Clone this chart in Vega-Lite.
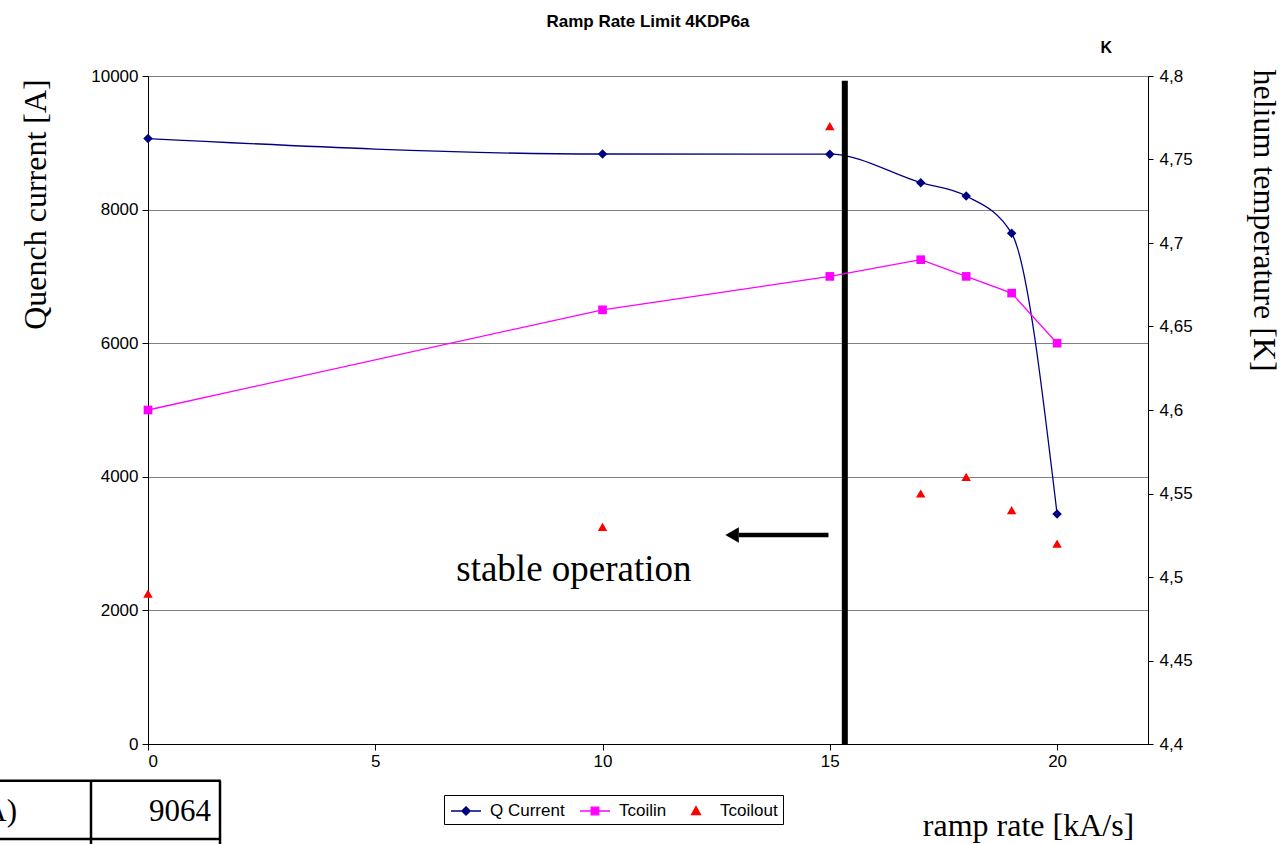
{
  "$schema": "https://vega.github.io/schema/vega-lite/v6.json",
  "width": 1000,
  "height": 668,
  "autosize": {"type": "none"},
  "padding": {"left": 148, "top": 76, "right": 134, "bottom": 100},
  "background": "white",
  "title": {"text": "Ramp Rate Limit 4KDP6a", "font": "Liberation Sans", "fontSize": 17, "fontWeight": "bold", "color": "black", "anchor": "middle", "frame": "group", "offset": 9},
  "config": {
    "view": {"stroke": "black", "strokeWidth": 1},
    "axis": {"labelFont": "Liberation Sans", "labelFontSize": 17, "labelColor": "black", "domainColor": "black", "tickColor": "black", "tickSize": 6, "titleFont": "Liberation Serif", "titleFontWeight": "normal", "titleColor": "black", "titleFontSize": 32}
  },
  "datasets": {
    "q": [
      {"x": 0, "current": 9064},
      {"x": 10, "current": 8832},
      {"x": 15, "current": 8830},
      {"x": 17, "current": 8403},
      {"x": 18, "current": 8204},
      {"x": 19, "current": 7645},
      {"x": 20, "current": 3443}
    ],
    "tin": [
      {"x": 0, "temp": 4.6},
      {"x": 10, "temp": 4.66},
      {"x": 15, "temp": 4.68},
      {"x": 17, "temp": 4.69},
      {"x": 18, "temp": 4.68},
      {"x": 19, "temp": 4.67},
      {"x": 20, "temp": 4.64}
    ],
    "tout": [
      {"x": 0, "temp": 4.49},
      {"x": 10, "temp": 4.53},
      {"x": 15, "temp": 4.77},
      {"x": 17, "temp": 4.55},
      {"x": 18, "temp": 4.56},
      {"x": 19, "temp": 4.54},
      {"x": 20, "temp": 4.52}
    ],
    "legendrows": [
      {"x": -100, "current": 0, "series": "Q Current"},
      {"x": -100, "current": 0, "series": "Tcoilin"},
      {"x": -100, "current": 0, "series": "Tcoilout"}
    ],
    "vlines": [
      {"x": 15.33, "y": 0, "y2": 9930, "w": "thick"},
      {"x": -1.254, "y": -549, "y2": -1500, "w": "table"},
      {"x": 1.584, "y": -549, "y2": -1500, "w": "table"}
    ],
    "hlines": [
      {"x": 14.97, "x2": 13.0, "y": 3130, "w": "arrow"},
      {"x": -3.3, "x2": 1.6, "y": -549, "w": "table"},
      {"x": -3.3, "x2": 1.6, "y": -1422, "w": "table"}
    ],
    "texts": [
      {"x": 9.37, "y": 2605, "label": "stable operation", "kind": "big"},
      {"x": 0.704, "y": -1018, "label": "9064", "kind": "table"},
      {"x": -2.88, "y": -1018, "label": "A)", "kind": "tableR"}
    ],
    "klabel": [{"x": 21.08, "y": 10419, "label": "K"}],
    "arrowhead": [{"x": 12.85, "y": 3130}]
  },
  "encoding": {
    "x": {"type": "quantitative", "scale": {"domain": [0, 22], "nice": false, "zero": false},
          "axis": {"values": [0, 5, 10, 15, 20], "grid": false, "title": "ramp rate [kA/s]", "titleX": 880, "titleY": 81, "titleAlign": "center", "titleBaseline": "middle", "labelPadding": 3}}
  },
  "layer": [
    {
      "encoding": {
        "y": {"type": "quantitative", "scale": {"domain": [0, 10000], "nice": false},
              "axis": {"values": [0, 2000, 4000, 6000, 8000, 10000], "grid": true, "gridColor": "#808080", "gridWidth": 1, "title": "Quench current [A]", "titleX": -113, "titleY": 128, "titleAngle": -90, "titleAlign": "center", "titleBaseline": "middle", "labelPadding": 4, "format": "d"}}
      },
      "layer": [
        {"data": {"name": "q"}, "mark": {"type": "line", "interpolate": "monotone", "color": "#000080", "strokeWidth": 1.3},
         "encoding": {"x": {"field": "x"}, "y": {"field": "current"}}},
        {"data": {"name": "q"}, "mark": {"type": "point", "filled": true, "opacity": 1, "shape": "diamond", "color": "#000080", "size": 90},
         "encoding": {"x": {"field": "x"}, "y": {"field": "current"}}},
        {"data": {"name": "legendrows"}, "mark": {"type": "point", "filled": true, "opacity": 1, "clip": true},
         "encoding": {"x": {"field": "x"}, "y": {"field": "current"},
           "fill": {"field": "series", "type": "nominal", "scale": {"domain": ["Q Current", "Tcoilin", "Tcoilout"], "range": ["#000080", "#FF00FF", "#FF0000"]},
             "legend": {"title": null, "orient": "none", "legendX": 296, "legendY": 719, "direction": "horizontal", "strokeColor": "black", "fillColor": "white", "padding": 5, "labelFont": "Liberation Sans", "labelFontSize": 17, "labelColor": "black", "labelOffset": 13, "columnPadding": 12, "symbolSize": 400, "symbolOffset": 6, "symbolStrokeWidth": 1.3, "symbolOpacity": 1}},
           "stroke": {"field": "series", "type": "nominal", "scale": {"domain": ["Q Current", "Tcoilin", "Tcoilout"], "range": ["#000080", "#FF00FF", "#FF0000"]}},
           "shape": {"field": "series", "type": "nominal", "scale": {"domain": ["Q Current", "Tcoilin", "Tcoilout"], "range": ["M-1.5,0H1.5M0,-0.42L0.42,0L0,0.42L-0.42,0Z", "M-1.5,0H1.5M-0.38,-0.38H0.38V0.38H-0.38Z", "M0,-0.45L0.45,0.36L-0.45,0.36Z"]}},
           "size": {"value": 400}}},
        {"data": {"name": "vlines"}, "transform": [{"filter": "datum.w == 'thick'"}], "mark": {"type": "rule", "color": "black", "strokeWidth": 6},
         "encoding": {"x": {"field": "x"}, "y": {"field": "y"}, "y2": {"field": "y2"}}},
        {"data": {"name": "vlines"}, "transform": [{"filter": "datum.w == 'table'"}], "mark": {"type": "rule", "color": "black", "strokeWidth": 2.5},
         "encoding": {"x": {"field": "x"}, "y": {"field": "y"}, "y2": {"field": "y2"}}},
        {"data": {"name": "hlines"}, "transform": [{"filter": "datum.w == 'arrow'"}], "mark": {"type": "rule", "color": "black", "strokeWidth": 4.5},
         "encoding": {"x": {"field": "x"}, "x2": {"field": "x2"}, "y": {"field": "y"}}},
        {"data": {"name": "hlines"}, "transform": [{"filter": "datum.w == 'table'"}], "mark": {"type": "rule", "color": "black", "strokeWidth": 2.5},
         "encoding": {"x": {"field": "x"}, "x2": {"field": "x2"}, "y": {"field": "y"}}},
        {"data": {"name": "arrowhead"}, "mark": {"type": "point", "shape": "triangle-left", "filled": true, "color": "black", "opacity": 1, "size": 240},
         "encoding": {"x": {"field": "x"}, "y": {"field": "y"}}},
        {"data": {"name": "texts"}, "transform": [{"filter": "datum.kind == 'big'"}], "mark": {"type": "text", "font": "Liberation Serif", "fontSize": 37, "color": "black", "align": "center", "baseline": "middle"},
         "encoding": {"x": {"field": "x"}, "y": {"field": "y"}, "text": {"field": "label"}}},
        {"data": {"name": "texts"}, "transform": [{"filter": "datum.kind == 'table'"}], "mark": {"type": "text", "font": "Liberation Serif", "fontSize": 31, "color": "black", "align": "center", "baseline": "middle"},
         "encoding": {"x": {"field": "x"}, "y": {"field": "y"}, "text": {"field": "label"}}},
        {"data": {"name": "texts"}, "transform": [{"filter": "datum.kind == 'tableR'"}], "mark": {"type": "text", "font": "Liberation Serif", "fontSize": 31, "color": "black", "align": "right", "baseline": "middle"},
         "encoding": {"x": {"field": "x"}, "y": {"field": "y"}, "text": {"field": "label"}}},
        {"data": {"name": "klabel"}, "mark": {"type": "text", "font": "Liberation Sans", "fontSize": 16, "fontWeight": "bold", "color": "black", "align": "center", "baseline": "middle"},
         "encoding": {"x": {"field": "x"}, "y": {"field": "y"}, "text": {"field": "label"}}}
      ]
    },
    {
      "encoding": {
        "y": {"type": "quantitative", "scale": {"domain": [4.4, 4.8], "nice": false, "zero": false},
              "axis": {"orient": "right", "values": [4.4, 4.45, 4.5, 4.55, 4.6, 4.65, 4.7, 4.75, 4.8], "grid": false, "labelExpr": "replace(format(datum.value, '.2~f'), '.', ',')", "title": "helium temperature [K]", "titleX": 115, "titleY": 144, "titleAngle": 90, "titleAlign": "center", "titleBaseline": "middle", "tickSize": 5, "labelPadding": 6}}
      },
      "layer": [
        {"data": {"name": "tin"}, "mark": {"type": "line", "color": "#FF00FF", "strokeWidth": 1.3},
         "encoding": {"x": {"field": "x"}, "y": {"field": "temp"}}},
        {"data": {"name": "tin"}, "mark": {"type": "point", "filled": true, "opacity": 1, "shape": "square", "color": "#FF00FF", "size": 75},
         "encoding": {"x": {"field": "x"}, "y": {"field": "temp"}}},
        {"data": {"name": "tout"}, "mark": {"type": "point", "filled": true, "opacity": 1, "shape": "triangle-up", "color": "#FF0000", "size": 90},
         "encoding": {"x": {"field": "x"}, "y": {"field": "temp"}}}
      ]
    }
  ],
  "resolve": {"scale": {"y": "independent"}}
}
